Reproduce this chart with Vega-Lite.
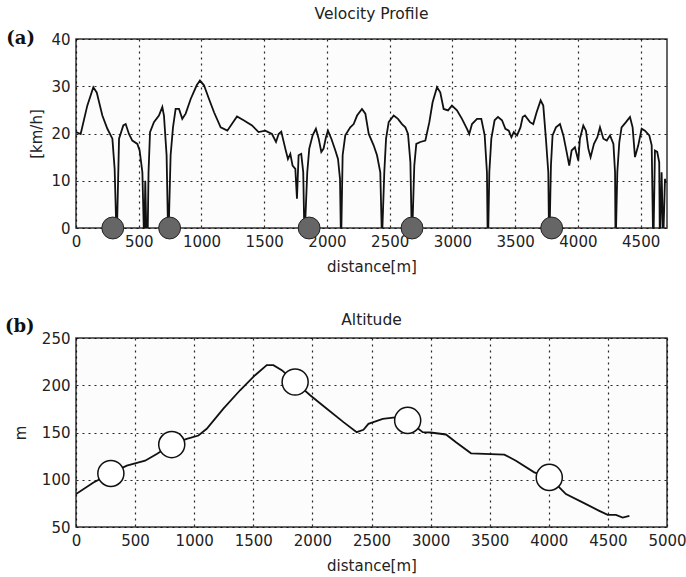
{
  "$schema": "https://vega.github.io/schema/vega-lite/v6.json",
  "padding": {"left": 4, "top": 5, "right": 2, "bottom": 2},
  "background": "white",
  "config": {
    "font": "DejaVu Sans",
    "view": {"stroke": "#333333", "strokeWidth": 1.5, "fill": "#fcfcfc"},
    "axis": {
      "grid": true, "gridColor": "#000000", "gridDash": [2, 4], "gridWidth": 1.2, "gridOpacity": 0.85,
      "domain": false, "ticks": false,
      "labelFont": "DejaVu Sans", "labelFontSize": 15, "labelColor": "#222222", "labelPadding": 6,
      "titleFont": "DejaVu Sans", "titleFontSize": 15, "titleFontWeight": "normal", "titleColor": "#222222",
      "labelFlush": false, "format": "d"
    },
    "title": {"font": "DejaVu Sans", "fontSize": 15.5, "fontWeight": "normal", "color": "#222222", "offset": 10},
    "concat": {"spacing": 37}
  },
  "datasets": {
    "velocity": [
      {"d":0,"v":20.3},{"d":37,"v":19.9},{"d":90,"v":25.9},{"d":138,"v":29.8},{"d":165,"v":28.7},{"d":210,"v":23.8},{"d":250,"v":21.0},{"d":290,"v":18.9},{"d":308,"v":12.5},{"d":321,"v":0},{"d":327,"v":0},{"d":343,"v":18.9},{"d":377,"v":21.7},{"d":396,"v":22.0},{"d":422,"v":19.9},{"d":449,"v":18.5},{"d":489,"v":17.8},{"d":507,"v":16.4},{"d":529,"v":11.8},{"d":540,"v":0},{"d":546,"v":0},{"d":552,"v":10},{"d":560,"v":0},{"d":572,"v":0},{"d":578,"v":11.8},{"d":590,"v":20.3},{"d":621,"v":22.4},{"d":661,"v":23.8},{"d":688,"v":25.6},{"d":701,"v":23.8},{"d":722,"v":15.4},{"d":733,"v":0},{"d":739,"v":0},{"d":754,"v":15.4},{"d":773,"v":21.3},{"d":794,"v":25.2},{"d":821,"v":25.2},{"d":847,"v":23.1},{"d":874,"v":24.2},{"d":914,"v":27.3},{"d":962,"v":30.2},{"d":988,"v":31.2},{"d":1020,"v":30.2},{"d":1060,"v":27.3},{"d":1100,"v":24.5},{"d":1153,"v":21.3},{"d":1206,"v":20.6},{"d":1283,"v":23.6},{"d":1336,"v":22.8},{"d":1403,"v":21.7},{"d":1455,"v":20.3},{"d":1508,"v":20.6},{"d":1562,"v":19.9},{"d":1594,"v":18.2},{"d":1615,"v":19.9},{"d":1636,"v":20.4},{"d":1668,"v":16.8},{"d":1689,"v":14.6},{"d":1708,"v":15.7},{"d":1726,"v":13.2},{"d":1748,"v":12.5},{"d":1761,"v":6.2},{"d":1774,"v":15.4},{"d":1795,"v":15.7},{"d":1811,"v":11.8},{"d":1819,"v":0},{"d":1825,"v":0},{"d":1843,"v":11.8},{"d":1859,"v":16.8},{"d":1886,"v":19.6},{"d":1912,"v":21.0},{"d":1934,"v":18.9},{"d":1955,"v":16.1},{"d":1973,"v":16.8},{"d":1992,"v":19.2},{"d":2008,"v":20.6},{"d":2035,"v":18.9},{"d":2067,"v":16.4},{"d":2088,"v":14.6},{"d":2104,"v":10.4},{"d":2110,"v":0},{"d":2115,"v":0},{"d":2125,"v":15.4},{"d":2146,"v":19.6},{"d":2186,"v":21.3},{"d":2213,"v":22.0},{"d":2240,"v":23.8},{"d":2279,"v":25.2},{"d":2306,"v":24.2},{"d":2333,"v":19.9},{"d":2372,"v":17.5},{"d":2399,"v":15.4},{"d":2425,"v":11.8},{"d":2436,"v":0},{"d":2442,"v":0},{"d":2457,"v":11.8},{"d":2471,"v":18.9},{"d":2492,"v":22.4},{"d":2532,"v":23.8},{"d":2566,"v":23.1},{"d":2598,"v":22.0},{"d":2625,"v":21.3},{"d":2646,"v":19.9},{"d":2665,"v":13.9},{"d":2675,"v":0},{"d":2681,"v":0},{"d":2696,"v":13.2},{"d":2712,"v":17.8},{"d":2744,"v":18.2},{"d":2784,"v":18.5},{"d":2816,"v":22.4},{"d":2842,"v":26.6},{"d":2877,"v":29.8},{"d":2903,"v":28.7},{"d":2930,"v":25.2},{"d":2965,"v":24.9},{"d":2996,"v":25.9},{"d":3036,"v":24.9},{"d":3076,"v":23.1},{"d":3116,"v":21.0},{"d":3134,"v":19.9},{"d":3156,"v":22.0},{"d":3196,"v":23.1},{"d":3230,"v":23.1},{"d":3257,"v":19.6},{"d":3275,"v":11.8},{"d":3280,"v":0},{"d":3286,"v":0},{"d":3294,"v":11.8},{"d":3310,"v":18.9},{"d":3336,"v":22.8},{"d":3363,"v":23.5},{"d":3395,"v":22.8},{"d":3422,"v":21.0},{"d":3449,"v":20.6},{"d":3470,"v":19.2},{"d":3489,"v":20.3},{"d":3515,"v":19.6},{"d":3542,"v":21.3},{"d":3560,"v":23.5},{"d":3578,"v":23.8},{"d":3618,"v":22.4},{"d":3644,"v":22.0},{"d":3671,"v":24.5},{"d":3703,"v":27.0},{"d":3724,"v":25.9},{"d":3745,"v":18.9},{"d":3764,"v":11.8},{"d":3769,"v":0},{"d":3775,"v":0},{"d":3785,"v":13.2},{"d":3798,"v":19.6},{"d":3825,"v":21.3},{"d":3857,"v":22.0},{"d":3884,"v":19.6},{"d":3910,"v":16.1},{"d":3931,"v":13.2},{"d":3950,"v":16.4},{"d":3976,"v":17.1},{"d":4003,"v":14.3},{"d":4016,"v":18.9},{"d":4043,"v":21.7},{"d":4064,"v":20.6},{"d":4083,"v":16.8},{"d":4101,"v":15.0},{"d":4128,"v":17.8},{"d":4155,"v":19.2},{"d":4176,"v":21.3},{"d":4203,"v":18.9},{"d":4230,"v":18.5},{"d":4256,"v":19.6},{"d":4283,"v":17.8},{"d":4296,"v":11.8},{"d":4299,"v":0},{"d":4304,"v":0},{"d":4314,"v":11.8},{"d":4330,"v":18.2},{"d":4348,"v":21.3},{"d":4383,"v":22.4},{"d":4415,"v":23.5},{"d":4436,"v":21.3},{"d":4455,"v":15.0},{"d":4481,"v":17.5},{"d":4508,"v":21.0},{"d":4534,"v":20.6},{"d":4569,"v":19.6},{"d":4588,"v":17.5},{"d":4598,"v":0},{"d":4604,"v":0},{"d":4614,"v":16.4},{"d":4632,"v":16.1},{"d":4648,"v":13.9},{"d":4652,"v":0},{"d":4657,"v":0},{"d":4667,"v":11.8},{"d":4677,"v":0},{"d":4683,"v":0},{"d":4694,"v":10.4},{"d":4700,"v":9.5}
    ],
    "velocityMarks": [
      {"d":293,"v":0},{"d":746,"v":0},{"d":1858,"v":0},{"d":2678,"v":0},{"d":3791,"v":0}
    ],
    "altitude": [
      {"d":0,"a":84.8},{"d":148,"a":97.1},{"d":295,"a":106.7},{"d":430,"a":114.9},{"d":585,"a":120.2},{"d":683,"a":127.3},{"d":810,"a":137.2},{"d":937,"a":143.3},{"d":1036,"a":146.8},{"d":1106,"a":153.9},{"d":1247,"a":175.2},{"d":1388,"a":194.7},{"d":1515,"a":210.6},{"d":1614,"a":221.3},{"d":1670,"a":221.3},{"d":1741,"a":216},{"d":1854,"a":203.5},{"d":1981,"a":189.4},{"d":2122,"a":175.2},{"d":2263,"a":161},{"d":2375,"a":150.4},{"d":2432,"a":152.8},{"d":2474,"a":159.2},{"d":2516,"a":161},{"d":2595,"a":164.5},{"d":2700,"a":166},{"d":2806,"a":162.8},{"d":2933,"a":150.4},{"d":3000,"a":150},{"d":3130,"a":147.9},{"d":3215,"a":139.7},{"d":3342,"a":128},{"d":3624,"a":126.6},{"d":3722,"a":120.2},{"d":3877,"a":107.8},{"d":4004,"a":102.5},{"d":4145,"a":84.8},{"d":4286,"a":76},{"d":4427,"a":67.1},{"d":4498,"a":62.8},{"d":4568,"a":62.8},{"d":4625,"a":60},{"d":4682,"a":61.7}
    ],
    "altitudeMarks": [
      {"d":295,"a":106.7},{"d":810,"a":137.2},{"d":1854,"a":203.5},{"d":2806,"a":162.8},{"d":4004,"a":102.5}
    ]
  },
  "vconcat": [
    {
      "width": 591,
      "height": 189,
      "title": {"text": "Velocity Profile", "dy": 2},
      "layer": [
        {
          "data": {"name": "velocity"},
          "mark": {"type": "line", "color": "#111111", "strokeWidth": 1.8, "clip": true},
          "encoding": {
            "x": {"field": "d", "type": "quantitative", "scale": {"domain": [0, 4710], "nice": false, "zero": false},
                  "axis": {"values": [0,500,1000,1500,2000,2500,3000,3500,4000,4500], "title": "distance[m]", "titlePadding": 10}},
            "y": {"field": "v", "type": "quantitative", "scale": {"domain": [0, 40], "nice": false},
                  "axis": {"values": [0,10,20,30,40], "title": "[km/h]", "titlePadding": 6}}
          }
        },
        {
          "data": {"name": "velocityMarks"},
          "mark": {"type": "point", "shape": "circle", "filled": true, "fill": "#666666", "stroke": "#222222", "strokeWidth": 1, "opacity": 1, "size": 480, "clip": false},
          "encoding": {
            "x": {"field": "d", "type": "quantitative"},
            "y": {"field": "v", "type": "quantitative"}
          }
        },
        {
          "data": {"values": [{"label": "(a)"}]},
          "mark": {"type": "text", "font": "DejaVu Serif", "fontWeight": "bold", "fontSize": 18, "color": "#111111", "align": "right", "baseline": "middle", "clip": false},
          "encoding": {
            "text": {"field": "label"},
            "x": {"datum": -327},
            "y": {"datum": 40}
          }
        }
      ]
    },
    {
      "width": 591,
      "height": 189,
      "title": {"text": "Altitude", "dy": 21},
      "layer": [
        {
          "data": {"name": "altitude"},
          "mark": {"type": "line", "color": "#111111", "strokeWidth": 1.8, "clip": true},
          "encoding": {
            "x": {"field": "d", "type": "quantitative", "scale": {"domain": [0, 5000], "nice": false, "zero": false},
                  "axis": {"values": [0,500,1000,1500,2000,2500,3000,3500,4000,4500,5000], "title": "distance[m]", "titlePadding": 10}},
            "y": {"field": "a", "type": "quantitative", "scale": {"domain": [50, 250], "nice": false, "zero": false},
                  "axis": {"values": [50,100,150,200,250], "title": "m", "titlePadding": 13}}
          }
        },
        {
          "data": {"name": "altitudeMarks"},
          "mark": {"type": "point", "shape": "circle", "filled": true, "fill": "#ffffff", "stroke": "#111111", "strokeWidth": 1.5, "opacity": 1, "size": 680, "clip": false},
          "encoding": {
            "x": {"field": "d", "type": "quantitative"},
            "y": {"field": "a", "type": "quantitative"}
          }
        },
        {
          "data": {"values": [{"label": "(b)"}]},
          "mark": {"type": "text", "font": "DejaVu Serif", "fontWeight": "bold", "fontSize": 18, "color": "#111111", "align": "right", "baseline": "middle", "clip": false},
          "encoding": {
            "text": {"field": "label"},
            "x": {"datum": -351},
            "y": {"datum": 262}
          }
        }
      ]
    }
  ]
}
